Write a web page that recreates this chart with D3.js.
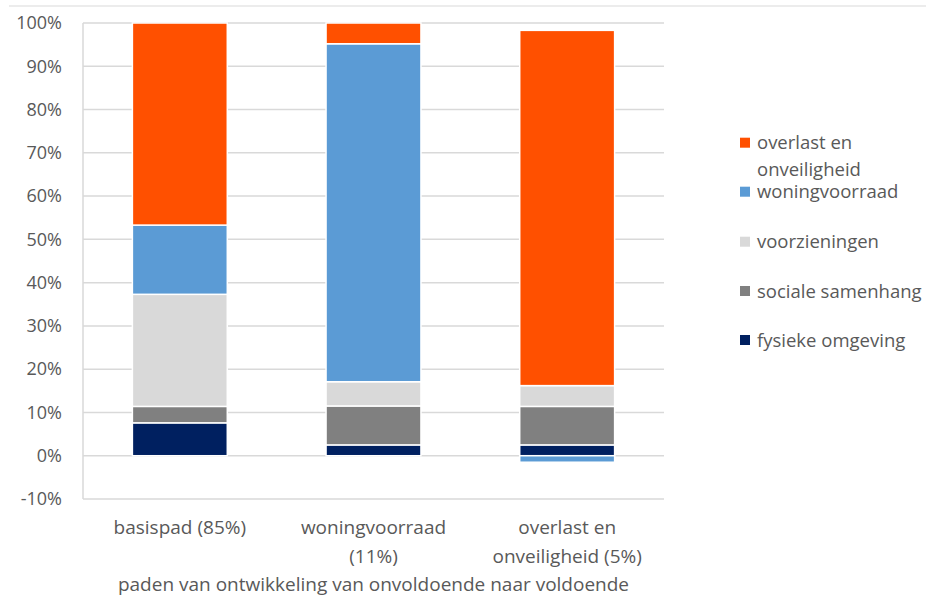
<!DOCTYPE html>
<html>
<head>
<meta charset="utf-8">
<script src="https://cdn.jsdelivr.net/npm/d3@7"></script>
<style>
  html, body { margin: 0; padding: 0; background: #fff; }
  svg { display: block; }
  text { font-family: "Open Sans", sans-serif; fill: #595959; }
</style>
</head>
<body>
<svg id="chart" width="926" height="598"></svg>
<script>
// ---- data ----
const categories = ["basispad (85%)", "woningvoorraad (11%)", "overlast en onveiligheid (5%)"];
const categoryLines = [["basispad (85%)"], ["woningvoorraad", "(11%)"], ["overlast en", "onveiligheid (5%)"]];
const seriesNames = ["fysieke omgeving", "sociale samenhang", "voorzieningen", "woningvoorraad", "overlast en onveiligheid"];
const fysiekeOmgeving = [7.6, 2.5, 2.5];
const socialeSamenhang = [3.8, 9.0, 8.9];
const voorzieningen = [25.9, 5.6, 4.8];
const woningvoorraad = [16.0, 78.1, -1.5];
const overlastEnOnveiligheid = [46.7, 4.8, 82.1];
const yTicks = [-10, 0, 10, 20, 30, 40, 50, 60, 70, 80, 90, 100];
const axisTitle = "paden van ontwikkeling van onvoldoende naar voldoende";
const colors = ["#002060", "#808080", "#D9D9D9", "#5B9BD5", "#FF5000"];
const legendOrder = [4, 3, 2, 1, 0];
const legendLines = {4: ["overlast en", "onveiligheid"]};

// ---- build ----
const seriesValues = [fysiekeOmgeving, socialeSamenhang, voorzieningen, woningvoorraad, overlastEnOnveiligheid];
const table = categories.map((c, i) => {
  const row = {cat: c};
  seriesNames.forEach((s, k) => row[s] = seriesValues[k][i]);
  return row;
});

const svg = d3.select("#chart");
const plotL = 83, plotR = 664, plotT = 23, plotB = 499;

const x = d3.scaleBand().domain(categories).range([plotL, plotR]).paddingInner(0.51).paddingOuter(0.255);
const y = d3.scaleLinear().domain([-10, 100]).range([plotB, plotT]);

// top border line
svg.append("line").attr("x1", 9).attr("x2", 926).attr("y1", 6).attr("y2", 6)
  .attr("stroke", "#d9d9d9").attr("stroke-width", 1);

// gridlines
svg.append("g").selectAll("line").data(yTicks).join("line")
  .attr("x1", plotL).attr("x2", plotR)
  .attr("y1", d => y(d)).attr("y2", d => y(d))
  .attr("stroke", "#d9d9d9").attr("stroke-width", 1.5);
svg.append("line").attr("x1", plotL).attr("x2", plotL).attr("y1", plotT).attr("y2", plotB)
  .attr("stroke", "#d9d9d9").attr("stroke-width", 1.5);

// y axis labels
const yAxis = d3.axisLeft(y).tickValues(yTicks).tickFormat(d => d + "%").tickSize(0).tickPadding(21);
const yg = svg.append("g").attr("transform", `translate(${plotL},0)`).call(yAxis);
yg.select(".domain").remove();
yg.selectAll("text").style("font-size", "18px").style("fill", "#595959").style("font-family", "'Open Sans', sans-serif");

// stacks
const stack = d3.stack().keys(seriesNames).offset(d3.stackOffsetDiverging);
const stacked = stack(table);
svg.append("g").selectAll("g").data(stacked).join("g")
  .attr("fill", (d, i) => colors[i])
  .selectAll("rect").data(d => d).join("rect")
  .attr("x", d => x(d.data.cat))
  .attr("width", x.bandwidth())
  .attr("y", d => y(Math.max(d[0], d[1])))
  .attr("height", d => Math.abs(y(d[0]) - y(d[1])))
  .attr("stroke", "#fff").attr("stroke-width", 1.5);

// x labels
const xg = svg.append("g");
categories.forEach((c, i) => {
  const t = xg.append("text").attr("text-anchor", "middle")
    .attr("x", x(c) + x.bandwidth() / 2).attr("y", 534)
    .style("font-size", "19px");
  categoryLines[i].forEach((line, j) => {
    t.append("tspan").attr("x", x(c) + x.bandwidth() / 2).attr("dy", j === 0 ? 0 : 29).text(line);
  });
});

// axis title
svg.append("text").attr("text-anchor", "middle").attr("x", (plotL + plotR) / 2).attr("y", 591)
  .style("font-size", "19px").text(axisTitle);

// legend
const legendY = [142.7, 191.7, 241.7, 291, 340];
const lg = svg.append("g");
legendOrder.forEach((k, idx) => {
  const cy = legendY[idx];
  lg.append("rect").attr("x", 740).attr("y", cy - 5).attr("width", 10).attr("height", 10).attr("fill", colors[k]);
  const lines = legendLines[k] || [seriesNames[k]];
  const t = lg.append("text").attr("x", 757).attr("y", cy + 6.5).style("font-size", "18.5px");
  lines.forEach((line, j) => {
    t.append("tspan").attr("x", 757).attr("dy", j === 0 ? 0 : 26.5).text(line);
  });
});
</script>
</body>
</html>
